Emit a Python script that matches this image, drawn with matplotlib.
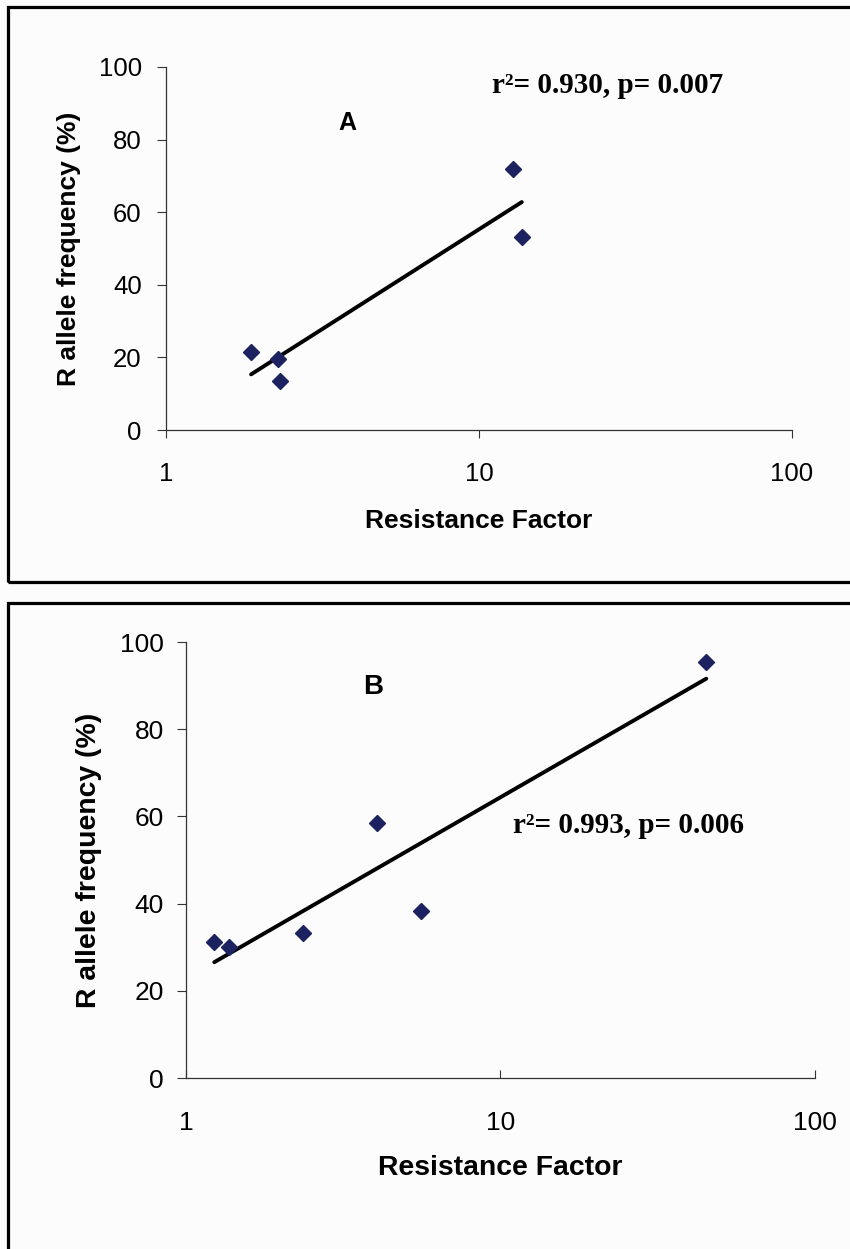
import numpy as np
import matplotlib
matplotlib.use("Agg")
import matplotlib.pyplot as plt
from matplotlib.patches import Rectangle

# ---- data ----
rf_a = [1.87, 2.28, 2.31, 12.8, 13.7]
freq_a = [21.5, 19.6, 13.5, 71.8, 53.3]
stat_a = "r\u00b2= 0.930, p= 0.007"

rf_b = [1.23, 1.37, 2.35, 4.05, 5.57, 45.1]
freq_b = [31.3, 30.0, 33.2, 58.4, 38.4, 95.5]
stat_b = "r\u00b2= 0.993, p= 0.006"

y_ticks = [0, 20, 40, 60, 80, 100]
x_ticks = [1, 10, 100]
x_labels = ["1", "10", "100"]

W, H = 850, 1249
SANS = ["Liberation Sans", "DejaVu Sans"]
SERIF = ["Liberation Serif", "DejaVu Serif"]
MARKER_C = "#1c2160"
BG = "#fcfcfc"

plt.rcParams["font.family"] = SANS

fig = plt.figure(figsize=(W / 100, H / 100), dpi=100, facecolor=BG)


def px_box(left, top, right, bottom):
    return [left / W, 1 - bottom / H, (right - left) / W, (bottom - top) / H]


# outer frames of the two panels (they run off the right / bottom edge)
for top, bottom in [(7, 582), (603, 1300)]:
    fig.add_artist(Rectangle((8 / W, 1 - bottom / H), 1.1, (bottom - top) / H,
                             transform=fig.transFigure, fill=False,
                             edgecolor="black", linewidth=2.3, clip_on=False))


def panel(rect, rf, freq, tickdir, xpad, ypad, fs, lab_fs, ylab_x, xlab_y):
    ax = fig.add_axes(rect)
    ax.set_facecolor("none")
    ax.set_xscale("log")
    ax.set_xlim(1, 100)
    ax.set_ylim(0, 100)

    # log-linear trend line, fitted to the points
    lx = np.log10(rf)
    slope, icpt = np.polyfit(lx, freq, 1)
    xs = np.array([min(rf), max(rf)])
    ax.plot(xs, slope * np.log10(xs) + icpt, color="black", linewidth=2.8,
            solid_capstyle="round", zorder=2)
    ax.plot(rf, freq, linestyle="none", marker="D", markersize=7.8,
            color=MARKER_C, zorder=3)

    ax.set_xticks(x_ticks)
    ax.set_xticklabels(x_labels)
    ax.xaxis.set_minor_locator(matplotlib.ticker.NullLocator())
    ax.set_yticks(y_ticks)
    ax.tick_params(axis="x", direction=tickdir, length=6, width=0.8,
                   color="#333333", pad=xpad, labelsize=fs)
    ax.tick_params(axis="y", direction="out", length=6.5, width=0.8,
                   color="#333333", pad=ypad, labelsize=fs)

    for side in ("top", "right"):
        ax.spines[side].set_visible(False)
    for side in ("left", "bottom"):
        ax.spines[side].set_color("#333333")
        ax.spines[side].set_linewidth(0.9)

    ax.set_xlabel("Resistance Factor", fontsize=lab_fs, fontweight="bold")
    ax.xaxis.label.set_va("center")
    ax.xaxis.set_label_coords(0.5, xlab_y)
    ax.set_ylabel("R allele frequency (%)", fontsize=lab_fs, fontweight="bold")
    ax.yaxis.label.set_va("center")
    ax.yaxis.set_label_coords(ylab_x, 0.5)
    return ax


ax_a = panel(px_box(166, 67, 792, 430), rf_a, freq_a, "out", 17, 11, 18.5, 19,
             -0.155, -0.251)
ax_b = panel(px_box(186, 642, 815, 1078), rf_b, freq_b, "in", 24, 9.5, 19, 20.4,
             -0.154, -0.206)

fig.text(347 / W, 1 - 123 / H, "A", fontsize=18, fontweight="bold",
         ha="center", va="center")
fig.text(373 / W, 1 - 687 / H, "B", fontsize=20, fontweight="bold",
         ha="center", va="center")

fig.text(492 / W, 1 - 93 / H, stat_a, family=SERIF, fontsize=21,
         fontweight="bold", ha="left", va="baseline")
fig.text(513 / W, 1 - 833 / H, stat_b, family=SERIF, fontsize=21,
         fontweight="bold", ha="left", va="baseline")

fig.savefig("out.png", dpi=100, facecolor=BG)
